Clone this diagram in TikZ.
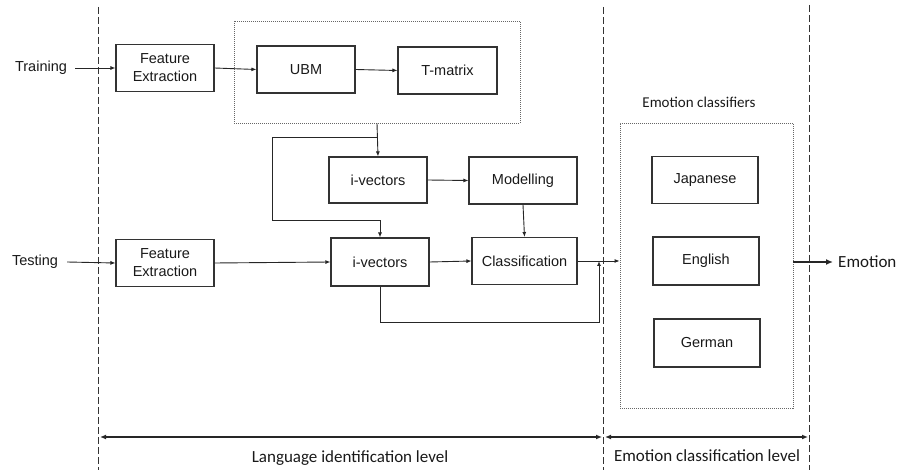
\documentclass[tikz,border=0pt]{standalone}
\usepackage{fontspec}
\setmainfont{Liberation Sans}
\newfontfamily\calib{Carlito}
\usetikzlibrary{arrows.meta}

\begin{document}
\begin{tikzpicture}[x=1pt, y=-1pt,
	every node/.style={font=\fontsize{14.5}{18}\selectfont, text=black!90},
	blk/.style={draw=black!80, line width=1.1pt, minimum width=98pt, minimum height=47pt, align=center, inner sep=2pt},
	grp/.style={draw=black!60, line width=0.8pt, dash pattern=on 1pt off 1pt},
	lane/.style={black!80, line width=0.8pt, dash pattern=on 7pt off 3pt},
	conn/.style={-{Latex[length=5pt, width=4pt]}, black!85, line width=0.9pt},
	lvl/.style={{Latex[length=6pt, width=5pt]}-{Latex[length=6pt, width=5pt]}, black!85, line width=1.8pt},
	cal/.style={font=\calib\fontsize{17}{20}\selectfont}]
	\useasboundingbox (0,0) rectangle (900,470);
	\draw[lane] (98,7) -- (98,470);
	\draw[lane] (603,7) -- (603,470);
	\draw[lane] (809,5) -- (809,470);
	\node[grp, minimum width=286pt, minimum height=102pt] (tvbox) at (377,72) {};
	\node[grp, minimum width=173pt, minimum height=285pt] (embox) at (706.5,265.5) {};
	\node[inner ysep=4pt, inner xsep=8pt] (train) at (41,68) {Training};
	\node[inner ysep=4pt, inner xsep=9pt] (test) at (35,262) {Testing};
	\node[blk] (fe1) at (165,68) {Feature\\Extraction};
	\node[blk] (ubm) at (306,69.5) {UBM};
	\node[blk, minimum width=99pt] (tmat) at (447.5,70.5) {T-matrix};
	\node[blk, minimum height=46pt] (iv1) at (378,180) {i-vectors};
	\node[blk, minimum width=108pt] (model) at (523,180.5) {Modelling};
	\node[blk] (fe2) at (165,263) {Feature\\Extraction};
	\node[blk, minimum height=48pt] (iv2) at (380,262) {i-vectors};
	\node[blk, minimum width=105pt] (cls) at (524.5,261) {Classification};
	\node[cal, font=\calib\fontsize{15}{18}\selectfont] (emlabel) at (699,102) {Emotion classifiers};
	\node[blk, minimum width=106pt] (jap) at (705,180) {Japanese};
	\node[blk, minimum width=106pt, minimum height=48pt] (eng) at (706,261) {English};
	\node[blk, minimum width=106pt, minimum height=48pt] (ger) at (707,343) {German};
	\node[cal, anchor=west, inner sep=0pt] (emotion) at (838,262) {Emotion};
	\node[cal] (langlvl) at (350,458) {Language identification level};
	\node[cal] (emolvl) at (707,456) {Emotion classification level};
	\coordinate (split) at (377,137);
	\coordinate (loopL) at (272,220);
	\coordinate (loopB) at (599,322);
	\draw[conn] (train.east) -- (fe1.west);
	\draw[conn] (fe1.east) -- (ubm.west);
	\draw[conn] (ubm.east) -- (tmat.west);
	\draw[conn] (tvbox.south) -- (iv1.north);
	\draw[conn] (split) -| (loopL) -| (iv2.north);
	\draw[conn] (iv1.east) -- (model.west);
	\draw[conn] (model.south) -- (cls.north);
	\draw[conn] (test.east) -- (fe2.west);
	\draw[conn] (fe2.east) -- (iv2.west);
	\draw[conn] (iv2.east) -- (cls.west);
	\draw[conn] (cls.east) -- (cls.east -| embox.west);
	\draw[conn] (iv2.south) |- (loopB) -- (loopB |- cls.east);
	\draw[-{Latex[length=7pt, width=6pt]}, black!85, line width=2.2pt] (embox.east |- emotion.west) -- ([xshift=-5pt]emotion.west);
	\draw[lvl] (100,437) -- (602,437);
	\draw[lvl] (605,437) -- (808,437);
\end{tikzpicture}
\end{document}
